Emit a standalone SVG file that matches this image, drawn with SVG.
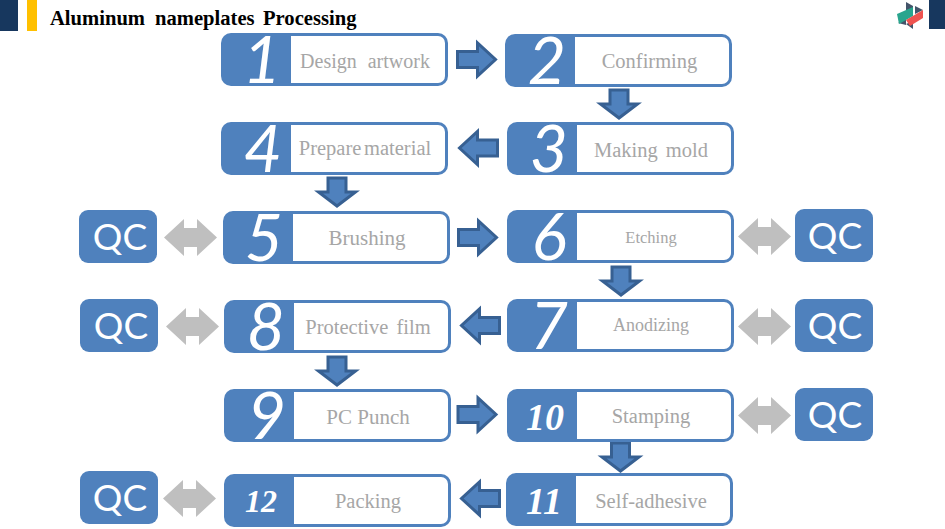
<svg xmlns="http://www.w3.org/2000/svg" xmlns:xlink="http://www.w3.org/1999/xlink" width="945" height="529" viewBox="0 0 945 529">
<style>
.o{fill:#4f81bd}
.i{fill:#fff}
.s{fill:#4f81bd;stroke:#376092;stroke-width:3;stroke-linejoin:miter}
.g{fill:#bfbfbf}
.t{font-family:"Liberation Serif",serif;fill:#a6a6a6;font-size:20.500px;text-anchor:middle}
.n{font-family:Lato,"Open Sans",sans-serif;font-style:italic;font-weight:400;font-size:66px;fill:#fff;text-anchor:middle}
.b{font-family:"Liberation Serif",serif;font-style:italic;font-weight:bold;font-size:38px;fill:#fff;text-anchor:middle}
.q{font-family:Lato,"Open Sans",sans-serif;font-size:37px;fill:#fff;text-anchor:middle}
</style>
<defs>
<g id="box"><rect class="o" width="227" height="53" rx="10"/><path class="i" d="M70 3H217a7 7 0 0 1 7 7V43a7 7 0 0 1-7 7H70Z"/></g>
<rect id="qc" class="o" width="78" height="53" rx="9"/>
<path id="ar" class="s" d="M0 8.500H20V0L38 16.500 20 33V24.500H0Z"/>
<path id="dn" class="s" d="M-9 0H9V14H18.500L0 28-18.500 14H-9Z"/>
<path id="dbl" class="g" d="M0 18.500 20 0V9H33V0L53 18.500 33 37V28H20V37Z"/>
</defs>
<g id="header">
<rect x="0" y="0" width="18" height="31" fill="#17375e"/>
<rect x="27" y="0" width="10" height="31" fill="#ffc000"/>
<rect x="929" y="0" width="16" height="29" fill="#17375e"/>
<text y="25" font-family="Liberation Serif,serif" font-weight="bold" font-size="20.600" fill="#000"><tspan x="50">Aluminum</tspan><tspan x="155">nameplates</tspan><tspan x="263">Processing</tspan></text>
<g id="logo">
<path d="M906 2 913 6V10L906 13Z" fill="#44546a"/>
<path d="M915 6 923 10 915 14Z" fill="#44546a"/>
<path d="M898 23 906 19V25Z" fill="#44546a"/>
<path d="M906 24 913 29V21Z" fill="#44546a"/>
<path d="M897 14 913 7V16L899 24Z" fill="#2aa58e"/>
<path d="M906 20 923 10V18L910 26Z" fill="#ef5350"/>
</g>
</g>
<g id="connectors">
<use xlink:href="#ar" href="#ar" x="457.500" y="43"/>
<use xlink:href="#dn" href="#dn" x="619" y="90"/>
<use xlink:href="#ar" href="#ar" transform="translate(497.500 131.500) scale(-1 1)"/>
<use xlink:href="#dn" href="#dn" x="337" y="178"/>
<use xlink:href="#ar" href="#ar" x="458.500" y="221"/>
<use xlink:href="#dn" href="#dn" x="621" y="267"/>
<use xlink:href="#ar" href="#ar" transform="translate(499.500 309) scale(-1 1)"/>
<use xlink:href="#dn" href="#dn" x="337" y="357"/>
<use xlink:href="#ar" href="#ar" x="458" y="398"/>
<use xlink:href="#dn" href="#dn" x="620.500" y="443"/>
<use xlink:href="#ar" href="#ar" transform="translate(499.500 482) scale(-1 1)"/>
<use xlink:href="#dbl" href="#dbl" x="164" y="219"/>
<use xlink:href="#dbl" href="#dbl" x="166" y="308"/>
<use xlink:href="#dbl" href="#dbl" x="163" y="480"/>
<use xlink:href="#dbl" href="#dbl" x="738" y="218"/>
<use xlink:href="#dbl" href="#dbl" x="738" y="308"/>
<use xlink:href="#dbl" href="#dbl" x="738" y="397"/>
</g>
<g id="n1"><use xlink:href="#box" href="#box" x="221" y="33"/><text class="n" x="262" y="83">1</text><text class="t" x="365" y="68" style="font-size:20px;word-spacing:6px">Design artwork</text></g>
<g id="n2"><use xlink:href="#box" href="#box" x="505" y="34"/><text class="n" x="547" y="84">2</text><text class="t" x="649.500" y="68">Confirming</text></g>
<g id="n3"><use xlink:href="#box" href="#box" x="507" y="122"/><text class="n" x="549" y="172">3</text><text class="t" x="651" y="157" style="word-spacing:3px">Making mold</text></g>
<g id="n4"><use xlink:href="#box" href="#box" x="221" y="122"/><text class="n" x="263" y="172">4</text><text class="t" x="365" y="155" style="word-spacing:-2.500px">Prepare material</text></g>
<g id="n5"><use xlink:href="#box" href="#box" x="223" y="211"/><text class="n" x="264" y="261">5</text><text class="t" x="367" y="245" style="font-size:21px">Brushing</text></g>
<g id="n6"><use xlink:href="#box" href="#box" x="507" y="210"/><text class="n" x="549" y="260">6</text><text class="t" x="651" y="243" style="font-size:16.500px">Etching</text></g>
<g id="n7"><use xlink:href="#box" href="#box" x="507" y="299"/><text class="n" x="549" y="349">7</text><text class="t" x="651" y="331" style="font-size:18px">Anodizing</text></g>
<g id="n8"><use xlink:href="#box" href="#box" x="224" y="300"/><text class="n" x="266" y="350">8</text><text class="t" x="368" y="334" style="word-spacing:3px">Protective film</text></g>
<g id="n9"><use xlink:href="#box" href="#box" x="224" y="389"/><text class="n" x="267" y="439">9</text><text class="t" x="368" y="424" style="font-size:21px">PC Punch</text></g>
<g id="n10"><use xlink:href="#box" href="#box" x="507" y="389"/><text class="b" x="545" y="430">10</text><text class="t" x="651" y="423">Stamping</text></g>
<g id="n11"><use xlink:href="#box" href="#box" x="506" y="473"/><text class="b" x="544" y="514">11</text><text class="t" x="651" y="508">Self-adhesive</text></g>
<g id="n12"><use xlink:href="#box" href="#box" x="224" y="474"/><text class="b" x="261" y="512" style="font-size:32px">12</text><text class="t" x="368" y="508">Packing</text></g>
<g id="q1"><use xlink:href="#qc" href="#qc" x="79" y="210"/><text class="q" x="120" y="250">QC</text></g>
<g id="q2"><use xlink:href="#qc" href="#qc" x="80" y="299"/><text class="q" x="121" y="339">QC</text></g>
<g id="q3"><use xlink:href="#qc" href="#qc" x="80" y="471"/><text class="q" x="120" y="511">QC</text></g>
<g id="q4"><use xlink:href="#qc" href="#qc" x="795" y="209"/><text class="q" x="835" y="249">QC</text></g>
<g id="q5"><use xlink:href="#qc" href="#qc" x="795" y="299"/><text class="q" x="835" y="339">QC</text></g>
<g id="q6"><use xlink:href="#qc" href="#qc" x="795" y="388"/><text class="q" x="835" y="428">QC</text></g>
</svg>
